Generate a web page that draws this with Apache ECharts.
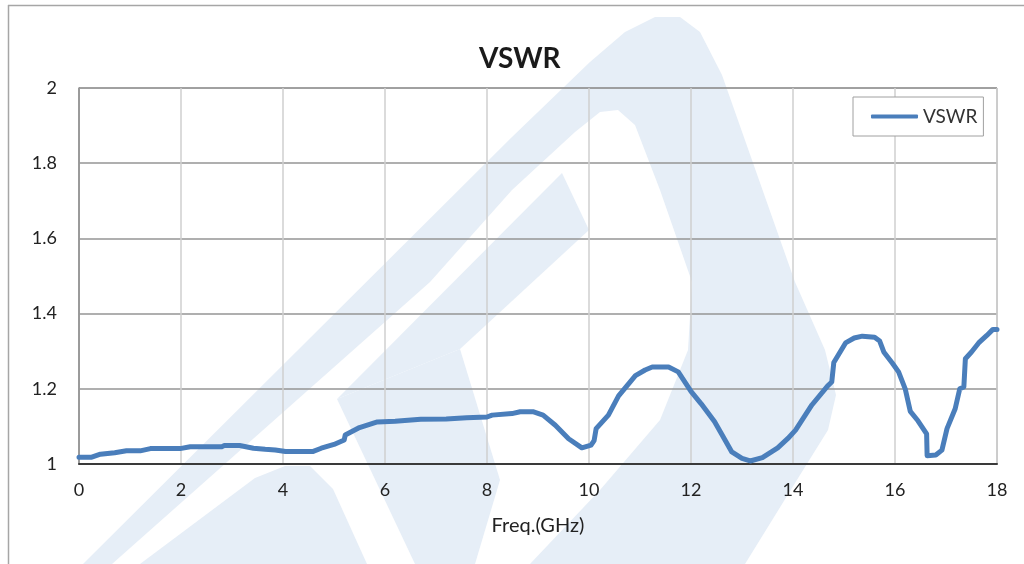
<!DOCTYPE html>
<html>
<head>
<meta charset="utf-8">
<script src="https://cdn.jsdelivr.net/npm/echarts@6/dist/echarts.min.js"></script>
<style>
  html, body { margin: 0; padding: 0; background: #fff; }
  #chart { width: 1024px; height: 564px; }
</style>
</head>
<body>
<div id="chart"></div>
<script>
const freq = [
  0, 0.25, 0.42, 0.7, 0.93, 1.2, 1.4, 1.98, 2.18, 2.8, 2.85, 3.15, 3.42, 3.65, 3.85,
  4.05, 4.58, 4.75, 5.0, 5.2, 5.22, 5.5, 5.85, 6.2, 6.7, 7.2, 7.6, 8.0, 8.1, 8.49,
  8.65, 8.9, 9.1, 9.34, 9.6, 9.86, 10.04, 10.1, 10.14, 10.38, 10.58, 10.91, 11.1, 11.24,
  11.56, 11.75, 12.0, 12.2, 12.46, 12.6, 12.8, 13.0, 13.16, 13.4, 13.7, 13.9, 14.05,
  14.37, 14.68, 14.76, 14.8, 15.03, 15.2, 15.36, 15.6, 15.7, 15.78, 15.95, 16.07,
  16.2, 16.3, 16.45, 16.62, 16.63, 16.8, 16.92, 17.02, 17.18, 17.27, 17.35, 17.38,
  17.5, 17.64, 17.8, 17.92, 18
];
const vswr = [
  1.018, 1.018, 1.026, 1.03, 1.035, 1.035, 1.041, 1.041, 1.046, 1.046, 1.049, 1.049,
  1.042, 1.039, 1.037, 1.033, 1.033, 1.042, 1.052, 1.064, 1.077, 1.097, 1.112, 1.114,
  1.119, 1.12, 1.123, 1.125, 1.13, 1.134, 1.139, 1.139, 1.13, 1.103, 1.067, 1.043,
  1.05, 1.062, 1.094, 1.13, 1.181, 1.235, 1.25, 1.258, 1.258, 1.245, 1.193, 1.16,
  1.113, 1.08, 1.032, 1.015, 1.008, 1.017, 1.043, 1.068, 1.09, 1.157, 1.208, 1.218,
  1.27, 1.322, 1.335, 1.34, 1.337, 1.327, 1.298, 1.268, 1.245, 1.2, 1.14, 1.115,
  1.08, 1.022, 1.024, 1.037, 1.094, 1.147, 1.2, 1.205, 1.28, 1.298, 1.322, 1.342,
  1.358, 1.358
];

const xTicks = { min: 0, max: 18, step: 2 };
const yTicks = { min: 1, max: 2, step: 0.2 };

// faint logo watermark behind the plot
const wmColor = '#e6eef7';
const watermark = [
  { fill: wmColor, pts: [[83,564],[512,137],[590,62],[625,32],[655,17],[680,17],[700,32],[722,75],[795,282],[825,350],[836,395],[828,430],[800,475],[745,564]] },
  { fill: '#ffffff', pts: [[112,564],[430,282],[512,190],[575,132],[600,112],[618,110],[635,125],[660,190],[692,282],[688,350],[660,420],[600,490],[530,564]] },
  { fill: wmColor, pts: [[337,399],[562,173],[589,230],[460,349]] },
  { fill: wmColor, pts: [[337,399],[460,349],[500,480],[475,564],[415,564]] },
  { fill: wmColor, pts: [[140,564],[255,478],[285,466],[310,466],[333,489],[367,564]] }
];

const font = 'Lato, "Open Sans", sans-serif';
const chart = echarts.init(document.getElementById('chart'));

const graphic = watermark.map(w => ({
  type: 'polygon',
  silent: true,
  z: -10,
  shape: { points: w.pts },
  style: { fill: w.fill }
}));
graphic.push(
  { type: 'line', silent: true, z: -5, shape: { x1: 8, y1: 5.5, x2: 1024, y2: 5.5 }, style: { stroke: '#a6a6a6', lineWidth: 1.5 } },
  { type: 'line', silent: true, z: -5, shape: { x1: 8.5, y1: 5, x2: 8.5, y2: 564 }, style: { stroke: '#a6a6a6', lineWidth: 1.5 } }
);

chart.setOption({
  backgroundColor: '#fff',
  animation: false,
  textStyle: { fontFamily: font },
  graphic: graphic,
  title: {
    text: 'VSWR',
    left: 474,
    top: 40,
    textStyle: { fontFamily: font, fontSize: 28, fontWeight: 'bold', color: '#1a1a1a' }
  },
  legend: {
    left: 853,
    top: 97,
    padding: [10, 6, 10, 18],
    backgroundColor: '#fff',
    borderColor: '#a0a0a0',
    borderWidth: 1,
    borderRadius: 0,
    icon: 'roundRect',
    itemWidth: 47,
    itemHeight: 4,
    itemGap: 5,
    textStyle: { fontFamily: font, fontSize: 19, color: '#333' },
    data: ['VSWR']
  },
  grid: {
    left: 79,
    right: 27,
    top: 88,
    bottom: 100,
    show: true,
    borderColor: '#8a8a8a',
    borderWidth: 1
  },
  xAxis: {
    type: 'value',
    min: xTicks.min,
    max: xTicks.max,
    interval: xTicks.step,
    name: 'Freq.(GHz)',
    nameLocation: 'middle',
    nameGap: 52,
    nameTextStyle: { fontFamily: font, fontSize: 20, color: '#222' },
    axisLine: { show: true, lineStyle: { color: '#3a3a3a', width: 2 } },
    axisTick: { show: false },
    axisLabel: { fontFamily: font, fontSize: 18, color: '#222', margin: 17 },
    splitLine: { show: true, lineStyle: { color: '#cfcfcf', width: 1.5 } }
  },
  yAxis: {
    type: 'value',
    min: yTicks.min,
    max: yTicks.max,
    interval: yTicks.step,
    axisLine: { show: true, lineStyle: { color: '#8a8a8a', width: 1.5 } },
    axisTick: { show: false },
    axisLabel: { fontFamily: font, fontSize: 18, color: '#222', margin: 22 },
    splitLine: { show: true, lineStyle: { color: '#959595', width: 1.5 } }
  },
  series: [{
    name: 'VSWR',
    type: 'line',
    showSymbol: false,
    symbol: 'none',
    color: '#4a7ebb',
    lineStyle: { width: 5, color: '#4a7ebb', join: 'round', cap: 'round' },
    data: freq.map((f, i) => [f, vswr[i]])
  }]
});
</script>
</body>
</html>
